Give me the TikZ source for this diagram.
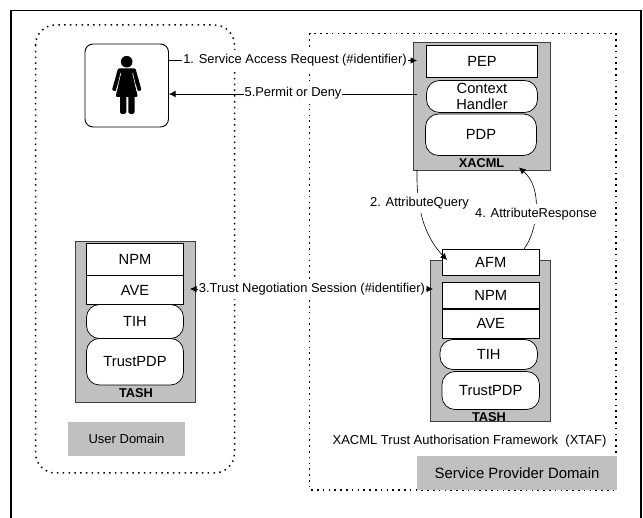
\documentclass[tikz,border=0pt]{standalone}
\usepackage{fontspec}
\setmainfont{Liberation Sans}
\usetikzlibrary{arrows.meta}
\definecolor{shade}{HTML}{C0C0C0}
\tikzset{
  dotbox/.style={draw=black,line width=1.5pt,dash pattern=on 1.5pt off 4.3pt,line cap=butt},
  shadebox/.style={draw=black!75,line width=0.9pt,fill=shade},
  modbox/.style={draw=black,line width=0.7pt,fill=white,inner sep=0pt,font=\fontsize{14.7}{16.5}\selectfont,align=center},
  pill/.style={modbox,rounded corners=13pt},
  lab/.style={fill=white,inner xsep=1pt,inner ysep=4pt,font=\fontsize{12.9}{14}\selectfont},
  flow/.style={draw=black,line width=0.6pt,-{Latex[length=6.5pt,width=6.5pt]}},
  capt/.style={font=\bfseries\fontsize{12.8}{14}\selectfont,inner sep=0pt},
}
\newcommand{\modnode}[6]{\node[#1,minimum width=#4pt-#3pt,minimum height=#6pt-#5pt] at ({(#3+#4)/2},{(#5+#6)/2})}
\begin{document}
\begin{tikzpicture}[x=1pt,y=-1pt]
\useasboundingbox (0,0) rectangle (643,518);
\begin{scope}
\clip (0,0) rectangle (643,518);
\draw[line width=1.8pt] (11,530) -- (11,10.5) -- (641,10.5) -- (641,530);
\end{scope}
\draw[dotbox,rounded corners=20pt] (35.5,25) rectangle (234.5,473);
\draw[dotbox] (309.5,33.5) rectangle (616,490);

% grey containers
\node[shadebox,inner sep=0pt,minimum width=120.5pt,minimum height=161pt] (ltash) at (135.25,322) {};
\node[shadebox,inner sep=0pt,minimum width=136.7pt,minimum height=128pt] (xacml) at (481.7,106) {};
\node[shadebox,inner sep=0pt,minimum width=120pt,minimum height=161pt] (rtash) at (490,340.5) {};
\node[fill=shade,inner sep=0pt,minimum width=117pt,minimum height=33.5pt,font=\fontsize{13}{15}\selectfont] (udom) at (126.5,439.25) {User Domain};
\node[fill=shade,inner sep=0pt,minimum width=200pt,minimum height=34pt,font=\fontsize{14.9}{16}\selectfont] (sdom) at (517,473) {Service Provider Domain};

% user
\node[draw=black,line width=0.9pt,fill=white,rounded corners=8pt,inner sep=0pt,minimum width=83.5pt,minimum height=83pt] (user) at (126.75,85.5) {};
\fill (126.7,61.7) circle (5.8);
\fill[rounded corners=1pt] (118,68.5) -- (135.5,68.5) -- (141.5,90) -- (138,91.5) -- (134.5,80) -- (137.7,96.8) -- (115.7,96.8) -- (119,80) -- (115.5,91.5) -- (112,90) -- cycle;
\draw[white,line width=0.6pt] (120.8,73) -- (116.6,91);
\draw[white,line width=0.6pt] (132.6,73) -- (136.8,91);
\fill[rounded corners=1.5pt] (120,95) rectangle (126.3,113.8);
\fill[rounded corners=1.5pt] (128.3,95) rectangle (134.6,113.8);

% left stack
\modnode{modbox}{}{86.5}{183.5}{243.5}{275.5} (lnpm) {NPM};
\modnode{modbox}{}{86.5}{183.5}{275.5}{304.5} (lave) {AVE};
\modnode{pill}{}{86.5}{183.5}{304.5}{338.5} (ltih) {TIH};
\modnode{pill}{}{86.5}{183.5}{338.5}{385} (lpdp) {TrustPDP};
\node[capt] (ltashl) at (136,393.5) {TASH};

% xacml stack
\modnode{modbox}{}{426.5}{537.5}{45.5}{77} (pep) {PEP};
\modnode{pill}{}{426.5}{537.5}{80.5}{112.5} (ctx) {Context\\Handler};
\modnode{pill}{}{425.5}{536.5}{114}{155.5} (pdp) {PDP};
\node[capt] (xacmll) at (481.5,163.5) {XACML};

% right stack
\modnode{modbox}{}{442}{539.5}{249.5}{275} (afm) {AFM};
\modnode{modbox}{}{442}{539.5}{282.5}{308.5} (rnpm) {NPM};
\modnode{modbox}{}{442}{539.5}{309.5}{338} (rave) {AVE};
\modnode{pill}{}{440}{537.5}{339.5}{369.5} (rtih) {TIH};
\modnode{pill}{}{442}{539.5}{371.5}{409.5} (rpdp) {TrustPDP};
\node[capt] (rtashl) at (489,417) {TASH};

\node[font=\fontsize{13}{15}\selectfont,inner sep=0pt] (xtaf) at (469.5,441.5) {XACML Trust Authorisation Framework\ \ (XTAF)};

% connector ends
\coordinate (a1s) at (168.5,60.5);
\coordinate (a1e) at (417,60.5);
\coordinate (a5s) at (417,94);
\coordinate (a5e) at (169,94);
\coordinate (a3l) at (190,289);
\coordinate (a3r) at (433,289);
\coordinate (a2s) at (417,170);
\coordinate (a2e) at (447,260);
\coordinate (a4s) at (524,249);
\coordinate (a4e) at (519,167.5);

\draw[flow] (a1s) -- (a1e);
\draw[flow] (a5s) -- (a5e);
\draw[flow,{Latex[length=6.5pt,width=6.5pt]}-{Latex[length=6.5pt,width=6.5pt]}] (a3l) -- (a3r);
\draw[flow] (a2s) .. controls (416,215) and (428,240) .. (a2e);
\draw[flow] (a4s) .. controls (537,232) and (544,189) .. (a4e);
\node[lab] (l1) at (295,60.5) {1. Service Access Request (\#identifier)};
\node[lab] (l5) at (293,93.5) {5.Permit or Deny};
\node[lab] (l3) at (312,289) {3.Trust Negotiation Session (\#identifier)};
\node[lab] (l2) at (419.5,203) {2. AttributeQuery};
\node[lab] (l4) at (536,214) {4. AttributeResponse};
\end{tikzpicture}
\end{document}
